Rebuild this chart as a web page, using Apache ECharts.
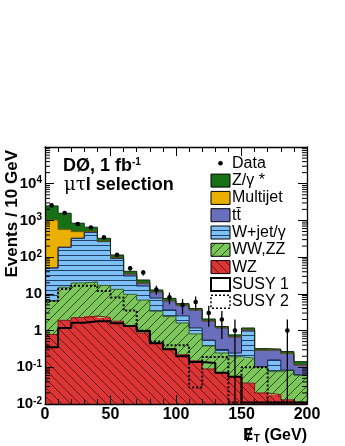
<!DOCTYPE html>
<html>
<head>
<meta charset="utf-8">
<script src="https://cdn.jsdelivr.net/npm/echarts@6/dist/echarts.min.js"></script>
<style>
  html, body { margin: 0; padding: 0; background: #fff; }
  #chart { width: 345px; height: 446px; }
</style>
</head>
<body>
<div id="chart"></div>
<script>
// missing E_T bins, 10 GeV wide
const binWidth = 10
const binStarts = [0, 10, 20, 30, 40, 50, 60, 70, 80, 90, 100, 110, 120, 130, 140, 150, 160, 170, 180, 190]

// expected events per bin, stacked from bottom to top
const wz = [0.78, 1.9, 2.25, 2.5, 2.25, 1.8, 1.3, 0.86, 0.46, 0.32, 0.22, 0.15, 0.09, 0.07, 0.054, 0.037, 0.02, 0.018, 0.013, 0.011]
const wwzz = [5.6, 13.2, 17.6, 18.6, 14.7, 11.5, 8.4, 5.9, 2.9, 2.07, 1.39, 0.66, 0.29, 0.175, 0.14, 0.14, 0.083, 0.058, 0.071, 0.051]
const wjet = [44, 170, 305, 455, 247, 78, 21, 9.6, 4.3, 1.25, 0.9, 0.37, 0.17, 0.06, 0.05, 0.79, 0, 0.082, 0, 0]
const ttbar = [0.5, 1, 2, 3, 4, 4, 4.5, 3.4, 3.6, 2.8, 2.3, 2.46, 1.28, 0.88, 0.43, 0.08, 0.19, 0.14, 0.154, 0.054]
const multijet = [980, 388, 168, 25, 3, 2, 0, 0, 0, 0, 0, 0, 0, 0, 0, 0, 0, 0, 0, 0]
const zgamma = [1450, 996, 344, 148, 55, 17, 6, 4.1, 1.5, 1.1, 0.6, 0.36, 0.24, 0.11, 0.09, 0.13, 0.03, 0.015, 0.03, 0.026]

// observed events
const dataCounts = [2570, 1600, 800, 640, 345, 115, 50, 38, 13, 8, 5, 6, 3, 2, 1, 0, 0, 0, 1, 0]

// signal points (not stacked)
const susy1 = [0.35, 1.18, 1.64, 1.8, 1.8, 1.58, 1.33, 0.98, 0.45, 0.31, 0.2, 0.14, 0.13, 0.071, 0.055, 0.011, 0.011, 0.011, 0.011, 0.011]
const susy2 = [6.4, 13.5, 16.5, 16.5, 12, 8, 3.5, 1.0, 0.5, 0.4, 0.4, 0.028, 0.19, 0.19, 0.011, 0.1, 0.1, 0.011, 0.011, 0.011]

const xTickValues = [0, 50, 100, 150, 200]
const yTickValues = [0.01, 0.1, 1, 10, 100, 1000, 10000, 100000]
const yTickLabels = ["{b|10}{s|-2}", "{b|10}{s|-1}", "{b|1}", "{b|10}", "{b|10}{s|2}", "{b|10}{s|3}", "{b|10}{s|4}", ""]
const minorFactors = [2, 3, 4, 5, 6, 7, 8, 9]
const yMin = 0.01
const yMax = 100000
const font = "'Liberation Sans', Arial, Helvetica, sans-serif"

function pattern(bg, ink, kind) {
  const s = kind === "h" ? 5 : 9
  const c = document.createElement("canvas")
  c.width = s
  c.height = s
  const g = c.getContext("2d")
  g.fillStyle = bg
  g.fillRect(0, 0, s, s)
  g.strokeStyle = ink
  g.lineWidth = 1
  g.beginPath()
  if (kind === "h") {
    g.moveTo(0, 0.5)
    g.lineTo(s, 0.5)
  } else if (kind === "up") {
    g.moveTo(-1, s + 1)
    g.lineTo(s + 1, -1)
    g.moveTo(-1, 1)
    g.lineTo(1, -1)
    g.moveTo(s - 1, s + 1)
    g.lineTo(s + 1, s - 1)
  } else {
    g.moveTo(-1, -1)
    g.lineTo(s + 1, s + 1)
    g.moveTo(s - 1, -1)
    g.lineTo(s + 1, 1)
    g.moveTo(-1, s - 1)
    g.lineTo(1, s + 1)
  }
  g.stroke()
  return { image: c, repeat: "repeat" }
}

const fillWZ = pattern("#dc3535", "#6a1414", "down")
const fillWW = pattern("#7dc65b", "#2e5220", "up")
const fillWjet = pattern("#7dc0f5", "#22406c", "h")

const layers = [
  { name: "WZ", values: wz, fill: fillWZ, edge: "#7a1818" },
  { name: "WW,ZZ", values: wwzz, fill: fillWW, edge: "#355f25" },
  { name: "W+jet/γ", values: wjet, fill: fillWjet, edge: "#15284a" },
  { name: "tt", values: ttbar, fill: "#6a6fbd", edge: "#2a2c66" },
  { name: "Multijet", values: multijet, fill: "#e9b000", edge: "#6a5000" },
  { name: "Z/γ *", values: zgamma, fill: "#167016", edge: "#0a300a" },
]

// cumulative tops for the stack
let running = binStarts.map(() => yMin)
const bands = layers.map((l, k) => {
  const lower = running.slice()
  const upper = running.map((r, i) => (k === 0 ? 0 : r) + l.values[i])
  running = upper
  return { ...l, lower, upper }
})

const series = []
bands.forEach((b) => {
  series.push({
    type: "custom",
    name: b.name,
    silent: true,
    z: 2,
    data: binStarts.map((x, i) => [x, b.lower[i], b.upper[i]]),
    renderItem(params, api) {
      const x0 = api.value(0)
      const lo = Math.max(api.value(1), yMin)
      const hi = api.value(2)
      if (!(hi > lo)) return
      const p0 = api.coord([x0, hi])
      const p1 = api.coord([x0 + binWidth, lo])
      const xa = Math.round(p0[0])
      const xb = Math.round(p1[0])
      return {
        type: "rect",
        shape: { x: xa, y: p0[1], width: xb - xa, height: p1[1] - p0[1] },
        style: { fill: b.fill },
      }
    },
  })
})
bands.forEach((b) => {
  series.push({
    type: "line",
    step: "end",
    silent: true,
    z: 3,
    symbol: "none",
    lineStyle: { color: b.edge, width: 1 },
    data: binStarts.map((x, i) => [x, b.upper[i]]).concat([[200, b.upper[b.upper.length - 1]]]),
  })
})

function stepData(vals) {
  return binStarts.map((x, i) => [x, vals[i]]).concat([[200, vals[vals.length - 1]]])
}
series.push({
  type: "line", step: "end", silent: true, z: 4, symbol: "none", clip: true,
  lineStyle: { color: "#000", width: 2 },
  data: stepData(susy1),
})
series.push({
  type: "line", step: "end", silent: true, z: 4, symbol: "none", clip: true,
  lineStyle: { color: "#000", width: 2, type: [2, 2] },
  data: stepData(susy2),
})

// data points with sqrt(N) error bars
series.push({
  type: "custom",
  silent: true,
  z: 5,
  data: binStarts.map((x, i) => [x + binWidth / 2, dataCounts[i]]),
  renderItem(params, api) {
    const x = api.value(0)
    const n = api.value(1)
    if (!(n > 0)) return
    const e = Math.sqrt(n)
    const p = api.coord([x, n])
    const top = api.coord([x, n + e])
    const bot = api.coord([x, Math.max(n - e, yMin)])
    return {
      type: "group",
      children: [
        { type: "line", shape: { x1: p[0], y1: top[1], x2: p[0], y2: bot[1] }, style: { stroke: "#000", lineWidth: 1.3 } },
        { type: "circle", shape: { cx: p[0], cy: p[1], r: 2.3 }, style: { fill: "#000" } },
      ],
    }
  },
})

// minor ticks on the log axes (left and right frame)
const minorValues = []
for (let d = -2; d < 5; d++) minorFactors.forEach((f) => minorValues.push(f * Math.pow(10, d)))
series.push({
  type: "custom",
  silent: true,
  z: 20,
  data: minorValues.map((v) => [0, v]),
  renderItem(params, api) {
    const v = api.value(1)
    const l = api.coord([0, v])
    const r = api.coord([200, v])
    const s = { stroke: "#000", lineWidth: 1 }
    return {
      type: "group",
      children: [
        { type: "line", shape: { x1: l[0], y1: l[1], x2: l[0] + 5, y2: l[1] }, style: s },
        { type: "line", shape: { x1: r[0] - 5, y1: r[1], x2: r[0], y2: r[1] }, style: s },
      ],
    }
  },
})

const axisLine = { show: true, onZero: false, lineStyle: { color: "#000", width: 1.3 } }
const xAxisBase = {
  type: "value", min: 0, max: 200, interval: 50, z: 10,
  axisLine, splitLine: { show: false },
  axisTick: { inside: true, length: 9, lineStyle: { color: "#000", width: 1 } },
  minorTick: { show: true, splitNumber: 5, length: 5, lineStyle: { color: "#000", width: 1 } },
}
const yAxisBase = {
  type: "log", logBase: 10, min: yMin, max: yMax, z: 10,
  axisLine, splitLine: { show: false },
  axisTick: { inside: true, length: 9, lineStyle: { color: "#000", width: 1 } },
}

const legendItems = [
  { label: "Z/γ *", fill: "#167016" },
  { label: "Multijet", fill: "#e9b000" },
  { label: "tt\u0304", fill: "#6a6fbd" },
  { label: "W+jet/γ", fill: fillWjet },
  { label: "WW,ZZ", fill: fillWW },
  { label: "WZ", fill: fillWZ },
  { label: "SUSY 1", fill: "#fff", dash: null, lw: 2 },
  { label: "SUSY 2", fill: "#fff", dash: [2, 2], lw: 1.5 },
]
const legX = 211
const legY0 = 163.3
const legStep = 17.3
const graphic = [
  { type: "circle", shape: { cx: legX + 9.5, cy: legY0, r: 2.3 }, style: { fill: "#000" } },
  { type: "text", x: 232, y: legY0, style: { text: "Data", font: "16px " + font, fill: "#000", verticalAlign: "middle" } },
]
legendItems.forEach((it, k) => {
  const y = legY0 + legStep * (k + 1)
  graphic.push({
    type: "rect",
    shape: { x: legX, y: y - 6.5, width: 19, height: 13 },
    style: { fill: it.fill, stroke: "#000", lineWidth: it.lw || 1, lineDash: it.dash || null },
  })
  graphic.push({ type: "text", x: 232, y: y, style: { text: it.label, font: "16px " + font, fill: "#000", verticalAlign: "middle" } })
})
graphic.push({
  type: "text", x: 63, y: 175,
  style: {
    text: "{b|DØ, 1 fb}{s|-1}", verticalAlign: "bottom",
    rich: {
      b: { font: "bold 18px " + font, fill: "#000" },
      s: { font: "bold 10px " + font, fill: "#000", verticalAlign: "top" },
    },
  },
})
graphic.push({
  type: "text", x: 64, y: 194,
  style: {
    text: "{g|μτ}{b|l selection}", verticalAlign: "bottom",
    rich: {
      g: { font: "18px 'DejaVu Serif', serif", fill: "#000" },
      b: { font: "bold 18px " + font, fill: "#000" },
    },
  },
})
graphic.push({
  type: "text", x: 12, y: 150, rotation: Math.PI / 2,
  style: { text: "Events / 10 GeV", font: "bold 17px " + font, fill: "#000", align: "right", verticalAlign: "middle" },
})
graphic.push({
  type: "text", x: 307, y: 444,
  style: {
    text: "{e|Ɇ}{t|T}{b| (GeV)}", align: "right", verticalAlign: "bottom",
    rich: {
      e: { font: "bold 16px 'DejaVu Sans', sans-serif", fill: "#000" },
      t: { font: "bold 10px " + font, fill: "#000", verticalAlign: "bottom" },
      b: { font: "bold 16px " + font, fill: "#000" },
    },
  },
})

const chart = echarts.init(document.getElementById("chart"), null, { renderer: "canvas" })
chart.setOption({
  animation: false,
  backgroundColor: "#fff",
  grid: { left: 45, right: 38, top: 147, bottom: 42, containLabel: false, outerBoundsMode: "none" },
  xAxis: [
    {
      ...xAxisBase, position: "bottom",
      axisLabel: {
        margin: 3, color: "#000", fontSize: 16, fontWeight: "bold", fontFamily: font,
        formatter: (v) => (xTickValues.indexOf(v) >= 0 ? String(v) : ""),
      },
    },
    { ...xAxisBase, position: "top", axisLabel: { show: false } },
  ],
  yAxis: [
    {
      ...yAxisBase, position: "left",
      axisLabel: {
        margin: 3, color: "#000",
        formatter: (v) => {
          const i = yTickValues.findIndex((t) => Math.abs(Math.log10(t) - Math.log10(v)) < 1e-6)
          return i >= 0 ? yTickLabels[i] : ""
        },
        rich: {
          b: { fontSize: 15, fontWeight: "bold", fontFamily: font, color: "#000", lineHeight: 16 },
          s: { fontSize: 10, fontWeight: "bold", fontFamily: font, color: "#000", verticalAlign: "top", lineHeight: 10 },
        },
      },
    },
    { ...yAxisBase, position: "right", axisLabel: { show: false } },
  ],
  graphic,
  series,
})
</script>
</body>
</html>
